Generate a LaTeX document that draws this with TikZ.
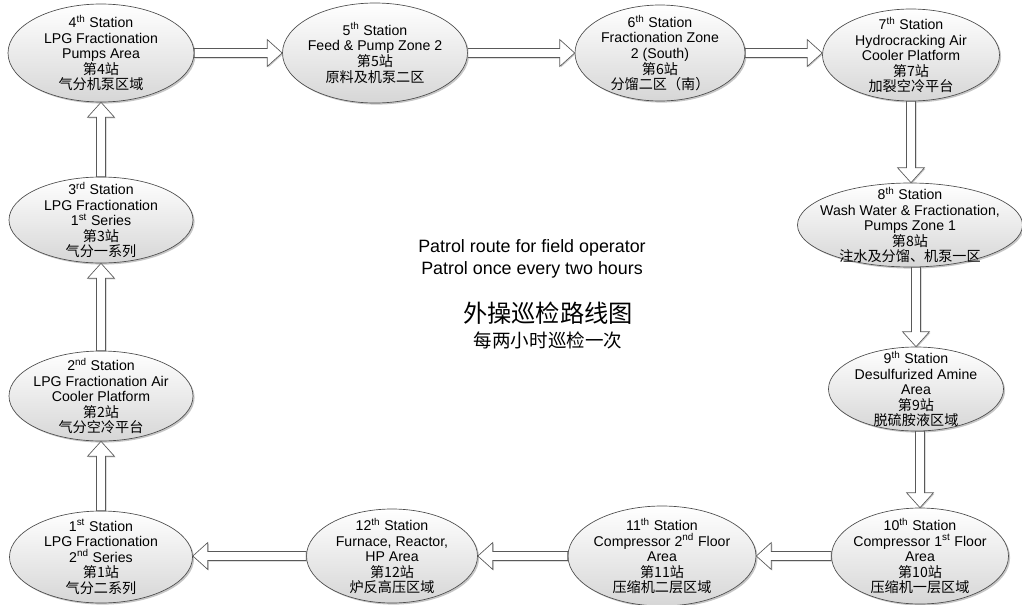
\documentclass[tikz,border=0pt]{standalone}
\usepackage{fontspec}
\setmainfont{Liberation Sans}
\newfontfamily\cjk{Noto Sans CJK SC}
\usetikzlibrary{shapes.geometric,shadows,calc}

\begin{document}
\begin{tikzpicture}[x=0.75pt,y=-0.75pt,
station/.style={ellipse,draw=black!70,line width=0.5pt,inner sep=0pt,top color=white,bottom color=black!16,
  drop shadow={shadow xshift=1.2pt,shadow yshift=-1.2pt,fill=black!50,opacity=0.45}},
stext/.style={align=center,inner sep=0pt,font=\fontsize{10.6}{11.7}\selectfont,text=black},
flow/.style={draw=black!65,line width=0.5pt,fill=white,line join=miter,
  drop shadow={shadow xshift=0.8pt,shadow yshift=-0.8pt,fill=black!45,opacity=0.45},
  to path={let \p1=(\tikztostart),\p2=(\tikztotarget),\n1={atan2(\y2-\y1,\x2-\x1)},\n2={\n1+90} in
    ($(\p1)+(\n2:3.4pt)$) -- ($(\p2)+(\n1:-11.2pt)+(\n2:3.4pt)$) -- ($(\p2)+(\n1:-11.2pt)+(\n2:10.1pt)$)
    -- (\p2) -- ($(\p2)+(\n1:-11.2pt)+(\n2:-10.1pt)$) -- ($(\p2)+(\n1:-11.2pt)+(\n2:-3.4pt)$)
    -- ($(\p1)+(\n2:-3.4pt)$) -- cycle}},
title/.style={align=center,inner sep=0pt,font=\fontsize{13.4}{16.5}\selectfont},
cntitle/.style={inner sep=0pt,font=\cjk\fontsize{18.2}{20}\selectfont},
cnsub/.style={inner sep=0pt,font=\cjk\fontsize{13.9}{16}\selectfont}
]
\useasboundingbox (0,0) rectangle (1022,604);
\node[station,minimum width=183*0.75pt,minimum height=92*0.75pt] (n1) at (101,557) {};
\node[stext] (t1) at (n1) {1\textsuperscript{st} Station\\LPG Fractionation\\2\textsuperscript{nd} Series\\{\cjk 第1站}\\{\cjk 气分二系列}};
\node[station,minimum width=184*0.75pt,minimum height=90*0.75pt] (n2) at (101,396) {};
\node[stext] (t2) at (n2) {2\textsuperscript{nd} Station\\LPG Fractionation Air\\Cooler Platform\\{\cjk 第2站}\\{\cjk 气分空冷平台}};
\node[station,minimum width=184*0.75pt,minimum height=86*0.75pt] (n3) at (101,220) {};
\node[stext] (t3) at (n3) {3\textsuperscript{rd} Station\\LPG Fractionation\\1\textsuperscript{st} Series\\{\cjk 第3站}\\{\cjk 气分一系列}};
\node[station,minimum width=186*0.75pt,minimum height=98*0.75pt] (n4) at (101,53) {};
\node[stext] (t4) at (n4) {4\textsuperscript{th} Station\\LPG Fractionation\\Pumps Area\\{\cjk 第4站}\\{\cjk 气分机泵区域}};
\node[station,minimum width=185*0.75pt,minimum height=100*0.75pt] (n5) at (375,53) {};
\node[stext] (t5) at (n5) {5\textsuperscript{th} Station\\Feed \& Pump Zone 2\\{\cjk 第5站}\\{\cjk 原料及机泵二区}};
\node[station,minimum width=170*0.75pt,minimum height=96*0.75pt] (n6) at (660,53) {};
\node[stext] (t6) at (n6) {6\textsuperscript{th} Station\\Fractionation Zone\\2 (South)\\{\cjk 第6站}\\{\cjk 分馏二区（南）}};
\node[station,minimum width=177*0.75pt,minimum height=92*0.75pt] (n7) at (911,55) {};
\node[stext] (t7) at (n7) {7\textsuperscript{th} Station\\Hydrocracking Air\\Cooler Platform\\{\cjk 第7站}\\{\cjk 加裂空冷平台}};
\node[station,minimum width=225*0.75pt,minimum height=84*0.75pt] (n8) at (910,225) {};
\node[stext] (t8) at (n8) {8\textsuperscript{th} Station\\Wash Water \& Fractionation,\\Pumps Zone 1\\{\cjk 第8站}\\{\cjk 注水及分馏、机泵一区}};
\node[station,minimum width=175*0.75pt,minimum height=84*0.75pt] (n9) at (916,389) {};
\node[stext] (t9) at (n9) {9\textsuperscript{th} Station\\Desulfurized Amine\\Area\\{\cjk 第9站}\\{\cjk 脱硫胺液区域}};
\node[station,minimum width=177*0.75pt,minimum height=96*0.75pt] (n10) at (920,556) {};
\node[stext] (t10) at (n10) {10\textsuperscript{th} Station\\Compressor 1\textsuperscript{st} Floor\\Area\\{\cjk 第10站}\\{\cjk 压缩机一层区域}};
\node[station,minimum width=188*0.75pt,minimum height=100*0.75pt] (n11) at (662,556) {};
\node[stext] (t11) at (n11) {11\textsuperscript{th} Station\\Compressor 2\textsuperscript{nd} Floor\\Area\\{\cjk 第11站}\\{\cjk 压缩机二层区域}};
\node[station,minimum width=171*0.75pt,minimum height=94*0.75pt] (n12) at (392,556) {};
\node[stext] (t12) at (n12) {12\textsuperscript{th} Station\\Furnace, Reactor,\\HP Area\\{\cjk 第12站}\\{\cjk 炉反高压区域}};
\draw[flow] (n1.north) to (n1.north |- n2.south);
\draw[flow] (n2.north) to (n2.north |- n3.south);
\draw[flow] (n3.north) to (n3.north |- n4.south);
\draw[flow] (n4.east) to (n4.east -| n5.west);
\draw[flow] (n5.east) to (n5.east -| n6.west);
\draw[flow] (n6.east) to (n6.east -| n7.west);
\draw[flow] (n7.south) to (n7.south |- n8.north);
\draw[flow] (n9.north |- n8.south) to (n9.north);
\draw[flow] (n10.north |- n9.south) to (n10.north);
\draw[flow] (n10.west) to (n10.west -| n11.east);
\draw[flow] (n11.west) to (n11.west -| n12.east);
\draw[flow] (n12.west) to (n12.west -| n1.east);
\node[title] (route) at (532,259) {Patrol route for field operator\\Patrol once every two hours};
\node[cntitle] (cnroute) at (548,313) {外操巡检路线图};
\node[cnsub] (cnonce) at (548,340) {每两小时巡检一次};
\end{tikzpicture}
\end{document}
